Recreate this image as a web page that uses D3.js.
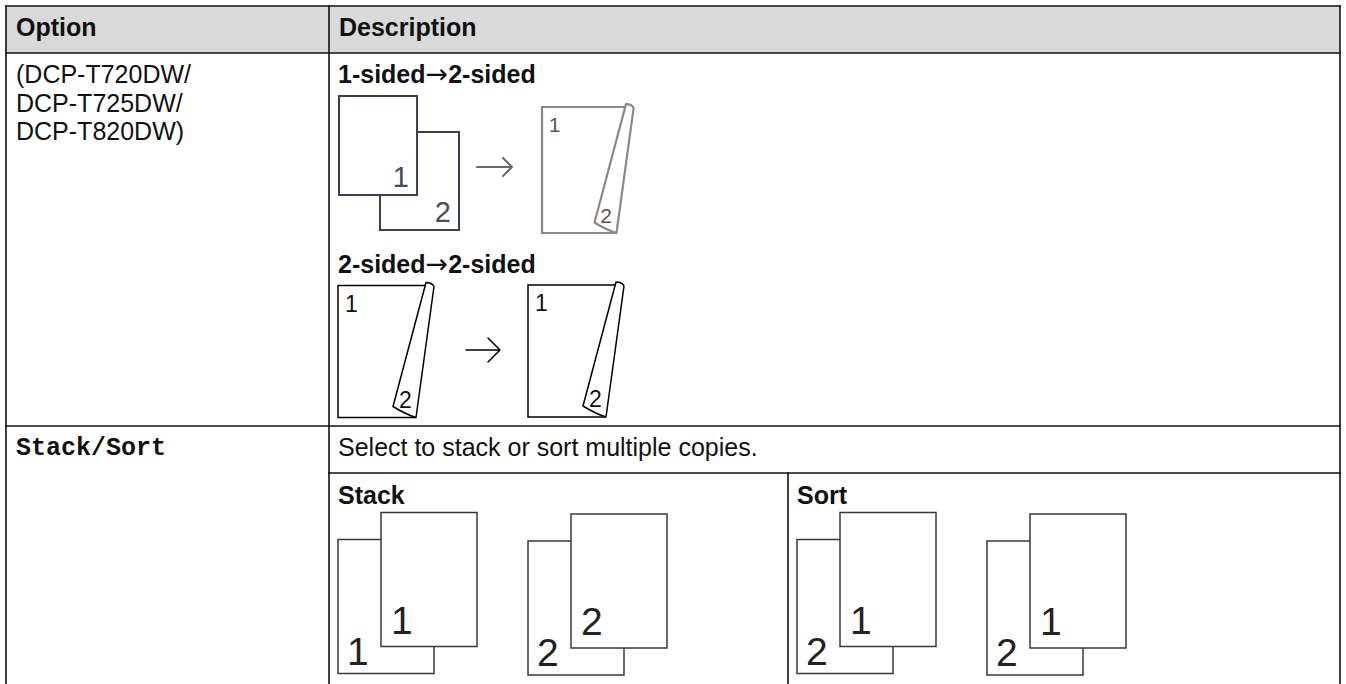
<!DOCTYPE html>
<html>
<head>
<meta charset="utf-8">
<script src="https://cdn.jsdelivr.net/npm/d3@7"></script>
<style>
  html, body { margin: 0; padding: 0; background: #fff; }
  svg { display: block; }
  text { font-family: "Liberation Sans", Arial, sans-serif; fill: #111; }
</style>
</head>
<body>
<svg id="chart" width="1346" height="684"></svg>
<script>
// ---------- data ----------
const headers = ["Option", "Description"];
const optionLines = ["(DCP-T720DW/", "DCP-T725DW/", "DCP-T820DW)"];
const duplexTitles = [["1-sided", "2-sided"], ["2-sided", "2-sided"]];
const onePagesLabels = ["2", "1"];               // 1-sided originals (back, front)
const resultLabels = ["1", "2"];                 // 1-sided -> 2-sided result
const bookletLabels = [["1", "2"], ["1", "2"]];  // 2-sided booklets (front, flap)
const stackSortOption = "Stack/Sort";
const stackSortDesc = "Select to stack or sort multiple copies.";
const subTitles = ["Stack", "Sort"];
const stackPairs = [["1", "1"], ["2", "2"]];     // [back, front]
const sortPairs = [["2", "1"], ["2", "1"]];

// ---------- layout ----------
const W = 1346, H = 684;
const FS = 25;
const svg = d3.select("#chart");

const colX = [6, 329, 1340];
const rowY = [6, 53, 426, 473, 700];
const subX = 788;

// header background
svg.append("rect").attr("x", colX[0]).attr("y", rowY[0])
  .attr("width", colX[2] - colX[0]).attr("height", rowY[1] - rowY[0])
  .attr("fill", "#d9d9d9");

// header text
svg.selectAll("text.hdr").data(headers).join("text")
  .attr("class", "hdr")
  .attr("x", (d, i) => colX[i] + 10)
  .attr("y", 36)
  .attr("font-size", FS).attr("font-weight", "bold")
  .text(d => d);

// option lines
svg.selectAll("text.opt").data(optionLines).join("text")
  .attr("class", "opt")
  .attr("x", 16)
  .attr("y", (d, i) => 83 + i * 28.5)
  .attr("font-size", FS)
  .text(d => d);

// duplex titles
const titleY = [83, 273];
const dup = svg.selectAll("text.dup").data(duplexTitles).join("text")
  .attr("class", "dup")
  .attr("x", 338).attr("y", (d, i) => titleY[i])
  .attr("font-size", FS).attr("font-weight", "bold");
dup.append("tspan").text(d => d[0]);
dup.append("tspan").attr("font-weight", "normal")
  .style("font-family", "'DejaVu Sans', sans-serif").attr("font-size", 27)
  .text("\u2192");
dup.append("tspan").text(d => d[1]);

// ---- 1-sided originals ----
const g1 = svg.append("g");
const onePages = [
  {x: 380, y: 132, w: 79, h: 98, label: onePagesLabels[0]},
  {x: 339, y: 96, w: 78, h: 99, label: onePagesLabels[1]}
];
g1.selectAll("rect").data(onePages).join("rect")
  .attr("x", d => d.x).attr("y", d => d.y)
  .attr("width", d => d.w).attr("height", d => d.h)
  .attr("fill", "#fff").attr("stroke", "#3e3c5e").attr("stroke-width", 2);
g1.selectAll("text").data(onePages).join("text")
  .attr("x", d => d.x + d.w - 8).attr("y", d => d.y + d.h - 8)
  .attr("text-anchor", "end")
  .attr("font-size", 29).style("fill", "#4a4a5e")
  .text(d => d.label);

// arrows
function arrow(g, x0, x1, y, head, color, sw) {
  g.append("path")
    .attr("d", `M${x0},${y}H${x1}M${x1 - head},${y - head}L${x1},${y}L${x1 - head},${y + head}`)
    .attr("fill", "none").attr("stroke", color).attr("stroke-width", sw)
    .attr("stroke-linecap", "round").attr("stroke-linejoin", "round");
}
arrow(svg, 477, 512, 167, 9, "#6a6a6a", 2);

// ---- booklet with curled page ----
function booklet(g, ox, oy, s, labels, color, sw, fsz, tcolor) {
  const bg = g.append("g").attr("transform", `translate(${ox},${oy}) scale(${s})`);
  bg.append("path")
    .attr("d", "M88,0H0V132H78")
    .attr("fill", "#fff").attr("stroke", color).attr("stroke-width", sw / s)
    .attr("stroke-linejoin", "miter");
  bg.append("path")
    .attr("d", "M88,-3Q94,-3 96,1L78,132Q68,129 55,121Z")
    .attr("fill", "#fff").attr("stroke", color).attr("stroke-width", sw / s)
    .attr("stroke-linejoin", "round");
  bg.append("text").attr("x", 7).attr("y", 26)
    .attr("font-size", fsz / s).style("fill", tcolor)
    .text(labels[0]);
  bg.append("text").attr("x", 61).attr("y", 122)
    .attr("font-size", fsz / s).style("fill", tcolor)
    .text(labels[1]);
}
booklet(svg, 542, 107, 126 / 132, resultLabels, "#8a8a8a", 2.2, 21, "#5a5550");
booklet(svg, 338, 285.5, 1, bookletLabels[0], "#000", 1.5, 23, "#111");
booklet(svg, 528, 285, 1, bookletLabels[1], "#000", 1.5, 23, "#111");
arrow(svg, 466, 500, 350, 12, "#000", 1.5);

// ---- Stack/Sort row ----
svg.append("text")
  .attr("x", 16).attr("y", 455)
  .attr("font-size", FS).attr("font-weight", "bold")
  .style("font-family", "'Courier New', 'Liberation Mono', monospace")
  .text(stackSortOption);
svg.append("text")
  .attr("x", 338).attr("y", 456)
  .attr("font-size", FS)
  .text(stackSortDesc);

svg.selectAll("text.sub").data(subTitles).join("text")
  .attr("class", "sub")
  .attr("x", (d, i) => (i === 0 ? colX[1] : subX) + 9)
  .attr("y", 504)
  .attr("font-size", FS).attr("font-weight", "bold")
  .text(d => d);

const pairX = d3.scaleLinear().domain([0, 1]).range([9, 199]);
const groups = [
  {x0: colX[1], pairs: stackPairs},
  {x0: subX, pairs: sortPairs}
];
const PW = 96, PH = 134;
groups.forEach(gr => {
  gr.pairs.forEach((p, i) => {
    const bx = gr.x0 + pairX(i);
    const by = i === 0 ? 539.5 : 541;
    const fx = bx + 43, fy = by - 27;
    const pg = svg.append("g");
    const pages = [
      {x: bx, y: by, label: p[0], tx: bx + 9, ty: by + 125},
      {x: fx, y: fy, label: p[1], tx: fx + 10, ty: fy + 121}
    ];
    pg.selectAll("rect").data(pages).join("rect")
      .attr("x", d => d.x).attr("y", d => d.y)
      .attr("width", PW).attr("height", PH)
      .attr("fill", "#fff").attr("stroke", "#3a3a3a").attr("stroke-width", 1.5);
    pg.selectAll("text").data(pages).join("text")
      .attr("x", d => d.tx).attr("y", d => d.ty)
      .attr("font-size", 39).style("fill", "#222")
      .text(d => d.label);
  });
});

// ---------- table lines ----------
const lines = [
  [colX[0], rowY[0], colX[2], rowY[0]],
  [colX[0], rowY[1], colX[2], rowY[1]],
  [colX[0], rowY[2], colX[2], rowY[2]],
  [colX[1], rowY[3], colX[2], rowY[3]],
  [colX[0], rowY[0], colX[0], H + 10],
  [colX[1], rowY[0], colX[1], H + 10],
  [colX[2], rowY[0], colX[2], H + 10],
  [subX, rowY[3], subX, H + 10]
];
svg.append("g").selectAll("line").data(lines).join("line")
  .attr("x1", d => d[0]).attr("y1", d => d[1])
  .attr("x2", d => d[2]).attr("y2", d => d[3])
  .attr("stroke", "#111").attr("stroke-width", 1.6)
  .attr("stroke-linecap", "square");
</script>
</body>
</html>
